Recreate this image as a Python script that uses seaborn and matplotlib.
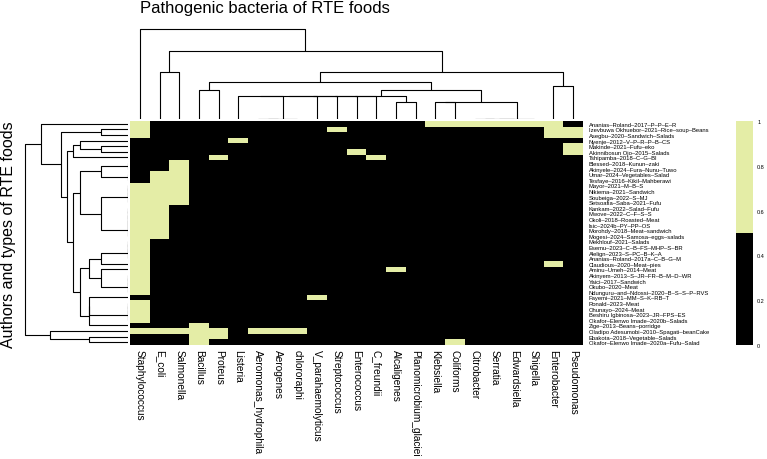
import numpy as np
import pandas as pd
import matplotlib
matplotlib.use('Agg')
import matplotlib.pyplot as plt
import seaborn as sns
from matplotlib.colors import ListedColormap

# bacteria (columns) and studies (rows)
bacteria = ['Staphylococcus', 'E_coli', 'Salmonella', 'Bacillus', 'Proteus', 'Listeria',
            'Aeromonas_hydrophila', 'Aerogenes', 'chlororaphi', 'V_parahaemolyticus',
            'Streptococcus', 'Enterococcus', 'C_freundii', 'Alcaligenes',
            'Planomicrobium_glaciei', 'Klebsiella', 'Coliforms', 'Citrobacter', 'Serratia',
            'Edwardsiella', 'Shigella', 'Enterobacter', 'Pseudomonas']

studies = ['Ananias–Roland–2017–P–P–E–R', 'Izevbuwa Okhuebor–2021–Rice–soup–Beans',
           'Asegbu–2020–Sandwich–Salads', 'Nyenje–2012–V–P–R–P–B–CS', 'Makinde–2021–Fufu–eko',
           'Akinnibosun Ojo–2015–Salads', 'Tshipamba–2018–C–G–BI', 'Blessed–2018–Kunun–zaki',
           'Akinyele–2024–Fura–Nunu–Tuwo', 'Umar–2024–Vegetables–Salad',
           'Tesfaye–2016–Kikil–Mahberawi', 'Mayor–2021–M–B–S', 'Nikiema–2021–Sandwich',
           'Soubeiga–2022–S–MJ', 'Setsoafia–Saba–2021–Fufu', 'Kankam–2022–Salad–Fufu',
           'Mwove–2022–C–F–S–S', 'Okoli–2018–Roasted–Meat', 'Isic–2024b–PY–PP–OS',
           'Morohdy–2018–Meat–sandwich', 'Mogesi–2024–Samosa–eggs–salads', 'Mekhlouf–2021–Salads',
           'Esemu–2023–C–B–FS–MHP–S–BR', 'Alelign–2023–S–PC–B–K–A', 'Ananias–Roland–2017a–C–B–G–M',
           'Claudious–2020–Meat–pies', 'Aminu–Umeh–2014–Meat', 'Akinyem–2013–S–JR–FR–B–M–D–WR',
           'Yaici–2017–Sandwich', 'Okubo–2020–Meat', 'Ndunguru–and–Ndossi–2020–B–S–S–P–RVS',
           'Fayemi–2021–MM–S–K–RB–T', 'Ronald–2023–Meat', 'Ohunayo–2024–Meat',
           'Beshiru Igbinosa–2023–JR–FPS–ES', 'Okafor–Elenwo Imade–2020b–Salads',
           'Zige–2013–Beans–porridge', 'Oladipo Adesumobi–2010–Spagati–beanCake',
           'Ebakota–2018–Vegetable–Salads', 'Okafor–Elenwo Imade–2020a–Fufu–Salad']

# index of bacteria detected in each study
detected = [[0, 15, 16, 17, 18, 19, 20, 21], [0, 10, 21, 22], [0, 21, 22], [5], [22],
            [11, 22], [4, 12], [2], [2], [1, 2],
            [1, 2], [0, 1, 2], [0, 1, 2], [0, 1, 2], [0, 1, 2],
            [0, 1], [0, 1], [0, 1], [0, 1], [0, 1],
            [0, 1], [0], [0], [0], [0],
            [0, 21], [0, 13], [0], [0], [0],
            [0], [9], [0], [0], [0],
            [0], [3], [0, 1, 2, 3, 4, 6, 7, 8], [3, 4], [3, 16]]

mat = np.zeros((len(studies), len(bacteria)))
for i, hits in enumerate(detected):
    mat[i, hits] = 1
df = pd.DataFrame(mat, index=studies, columns=bacteria)


def ordered_linkage(x):
    # complete linkage where only neighbours in the table order may merge,
    # so the dendrogram leaves keep the order of the table
    d = np.sqrt(((x[:, None, :] - x[None, :, :]) ** 2).sum(-1))
    groups = [[i] for i in range(len(x))]
    ids = list(range(len(x)))
    Z = []
    for new_id in range(len(x), 2 * len(x) - 1):
        gaps = [d[np.ix_(groups[j], groups[j + 1])].max() for j in range(len(groups) - 1)]
        j = int(np.argmin(gaps))
        merged = groups[j] + groups[j + 1]
        Z.append([ids[j], ids[j + 1], gaps[j], len(merged)])
        groups[j:j + 2] = [merged]
        ids[j:j + 2] = [new_id]
    return np.array(Z, dtype=float)


plt.rcParams['font.family'] = ['Liberation Sans', 'DejaVu Sans']
cmap = ListedColormap(['#000000', '#e4eda6'])

g = sns.clustermap(df, row_linkage=ordered_linkage(df.values),
                   col_linkage=ordered_linkage(df.values.T),
                   cmap=cmap, vmin=0, vmax=1, figsize=(7.67, 4.6),
                   xticklabels=True, yticklabels=True,
                   tree_kws={'colors': 'black', 'linewidths': 0.8})

W, H = 767, 460
top, bot = 122, 346
g.ax_heatmap.set_position([130 / W, 1 - bot / H, 453 / W, (bot - top) / H])
g.ax_row_dendrogram.set_position([20 / W, 1 - bot / H, 108 / W, (bot - top) / H])
g.ax_col_dendrogram.set_position([130 / W, 1 - 120 / H, 453 / W, 95 / H])
g.ax_cbar.set_position([736 / W, 1 - bot / H, 17 / W, (bot - top) / H])

g.ax_heatmap.set_xlabel('')
g.ax_heatmap.set_ylabel('')
g.ax_heatmap.tick_params(axis='y', labelsize=4.2, length=0, pad=4)
g.ax_heatmap.tick_params(axis='x', labelsize=7.3, length=0, pad=3)
plt.setp(g.ax_heatmap.get_xticklabels(), rotation=270, ha='center', va='top')

g.ax_cbar.set_yticks([0, 0.2, 0.4, 0.6, 0.8, 1])
g.ax_cbar.set_yticklabels(['0', '0.2', '0.4', '0.6', '0.8', '1'])
g.ax_cbar.tick_params(labelsize=4, length=0, pad=3)

g.fig.text(140 / W, 1 - 9 / H, 'Pathogenic bacteria of RTE foods', fontsize=12, va='center')
g.fig.text(9 / W, 1 - 235 / H, 'Authors and types of RTE foods', fontsize=11.5,
           rotation=90, va='center', ha='center')

g.fig.savefig('out.png', dpi=100)
